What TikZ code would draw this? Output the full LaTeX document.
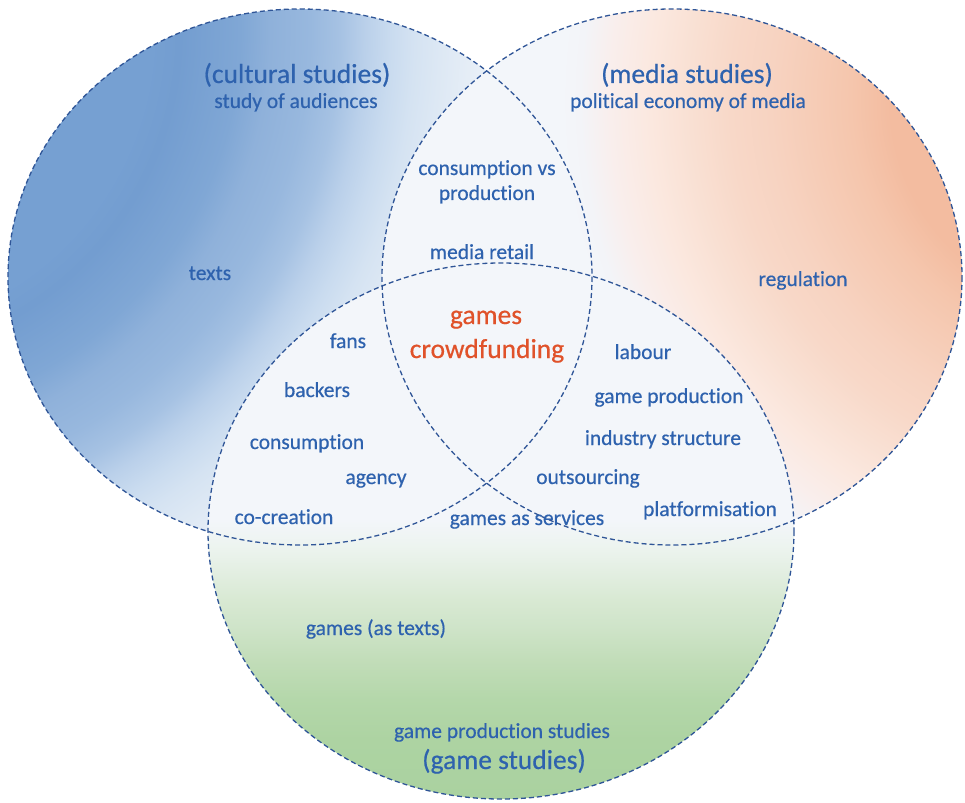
\documentclass[tikz,border=0pt]{standalone}
\usepackage{fontspec}
\setmainfont{Carlito}[Ligatures={NoCommon}, RawFeature={embolden=0.5}]

% palette
\definecolor{txtblue}{HTML}{2E62AE}
\definecolor{hotred}{HTML}{E0522A}
\definecolor{rim}{HTML}{2F5597}
\definecolor{paleblue}{HTML}{F3F6FA}
% cultural studies field
\definecolor{cb0}{HTML}{76A0D2}
\definecolor{cb1}{HTML}{739DD0}
\definecolor{cb2}{HTML}{80A7D5}
\definecolor{cb3}{HTML}{8FB1DA}
\definecolor{cb4}{HTML}{98B8DE}
\definecolor{cb5}{HTML}{A6C2E3}
\definecolor{cb6}{HTML}{BAD0EA}
\definecolor{cb7}{HTML}{C9DBEF}
\definecolor{cb8}{HTML}{D5E3F2}
\definecolor{cb9}{HTML}{DDE8F4}
\definecolor{cb10}{HTML}{E8EFF7}
% media studies field
\definecolor{mo0}{HTML}{F3BCA0}
\definecolor{mo1}{HTML}{F5C6AD}
\definecolor{mo2}{HTML}{F7D3C1}
\definecolor{mo3}{HTML}{F8D8C8}
\definecolor{mo4}{HTML}{F9E0D3}
\definecolor{mo5}{HTML}{FBE8DF}
\definecolor{mo6}{HTML}{F9EEEC}
\definecolor{mo7}{HTML}{F3F4F8}
% game studies field
\definecolor{gg0}{HTML}{AAD2A0}
\definecolor{gg1}{HTML}{ADD3A2}
\definecolor{gg2}{HTML}{B4D7AA}
\definecolor{gg3}{HTML}{C2DDB9}
\definecolor{gg4}{HTML}{CFE4C9}
\definecolor{gg5}{HTML}{D8E9D3}
\definecolor{gg6}{HTML}{E4EFE3}
\definecolor{gg7}{HTML}{EDF4F0}

% glow of the cultural field, centred up and to the left of it (1bp = 32pt here)
\pgfdeclareradialshading{culturalglow}{\pgfpointorigin}{color(0bp)=(cb0); color(9.38bp)=(cb0);
  color(10.31bp)=(cb1); color(12.19bp)=(cb2); color(13.13bp)=(cb3); color(14.38bp)=(cb4);
  color(15.31bp)=(cb5); color(16.09bp)=(cb6); color(16.88bp)=(cb7); color(17.66bp)=(cb8);
  color(18.44bp)=(cb9); color(19.69bp)=(cb10); color(21.25bp)=(paleblue); color(50bp)=(paleblue)}
% glow of the media field, centred up and to the right of it
\pgfdeclareradialshading{mediaglow}{\pgfpointorigin}{color(0bp)=(mo0); color(6.56bp)=(mo0);
  color(7.81bp)=(mo1); color(10.31bp)=(mo2); color(11.56bp)=(mo3); color(12.81bp)=(mo4);
  color(14.06bp)=(mo5); color(15.31bp)=(mo6); color(16.25bp)=(mo7); color(16.88bp)=(paleblue);
  color(50bp)=(paleblue)}
% fade of the game field, from the bottom up
\pgfdeclareverticalshading{gamefade}{100bp}{color(0bp)=(gg0); color(25bp)=(gg0);
  color(30.6bp)=(gg1); color(34.3bp)=(gg2); color(38bp)=(gg3); color(41.1bp)=(gg4);
  color(43.6bp)=(gg5); color(46.4bp)=(gg6); color(48.7bp)=(gg7); color(51bp)=(paleblue);
  color(100bp)=(paleblue)}

\begin{document}
\begin{tikzpicture}[x=1pt,y=-1pt,
  venn/.style={draw=rim, line width=1.3pt, dash pattern=on 5pt off 3pt},
  lbl/.style={text=txtblue, inner sep=0pt, anchor=base,
    font=\fontsize{21.5}{24}\selectfont},
  head/.style={lbl, font=\fontsize{27.5}{31}\selectfont},
  hot/.style={head, text=hotred}]

\useasboundingbox (0,0) rectangle (965,802);
\fill[white] (0,0) rectangle (965,802);

% fields
\begin{scope}
  \clip (300,277) ellipse [x radius=292, y radius=268];
  \shade[shading=culturalglow] (-950,-770) rectangle (650,830);
\end{scope}
\begin{scope}
  \clip (672,277) ellipse [x radius=290, y radius=268];
  \shade[shading=mediaglow] (300,-700) rectangle (1900,900);
\end{scope}
\shade[shading=gamefade] (501,531) ellipse [x radius=293, y radius=268];

% outlines
\draw[venn] (300,277) ellipse [x radius=292, y radius=268];
\draw[venn] (672,277) ellipse [x radius=290, y radius=268];
\draw[venn] (501,531) ellipse [x radius=293, y radius=268];

% cultural studies
\node[head] (cs) at (297,83) {(cultural studies)};
\node[lbl] (aud) at (296,108) {study of audiences};
\node[lbl] (txt) at (210,280) {texts};

% media studies
\node[head] (ms) at (687,83) {(media studies)};
\node[lbl] (pol) at (688,108) {political economy of media};
\node[lbl] (reg) at (803,286) {regulation};

% cultural and media
\node[lbl] (cvs) at (487,175) {consumption vs};
\node[lbl] (prod) at (487,200) {production};
\node[lbl] (ret) at (482,259) {media retail};

% centre
\node[hot] (gms) at (486,324) {games};
\node[hot] (cf) at (487,358) {crowdfunding};

% cultural and game
\node[lbl] (fans) at (348,348) {fans};
\node[lbl] (back) at (317,397) {backers};
\node[lbl] (cons) at (307,449) {consumption};
\node[lbl] (agcy) at (376,484) {agency};
\node[lbl] (cocr) at (284,524) {co-creation};
\node[lbl] (gas) at (527,525) {games as services};

% media and game
\node[lbl] (lab) at (643,359) {labour};
\node[lbl] (gp) at (669,403) {game production};
\node[lbl] (ind) at (663,445) {industry structure};
\node[lbl] (out) at (588,484) {outsourcing};
\node[lbl] (plat) at (710,516) {platformisation};

% game studies
\node[lbl] (gat) at (376,635) {games (as texts)};
\node[lbl] (gps) at (502,738) {game production studies};
\node[head] (gs) at (504,769) {(game studies)};
\end{tikzpicture}
\end{document}
